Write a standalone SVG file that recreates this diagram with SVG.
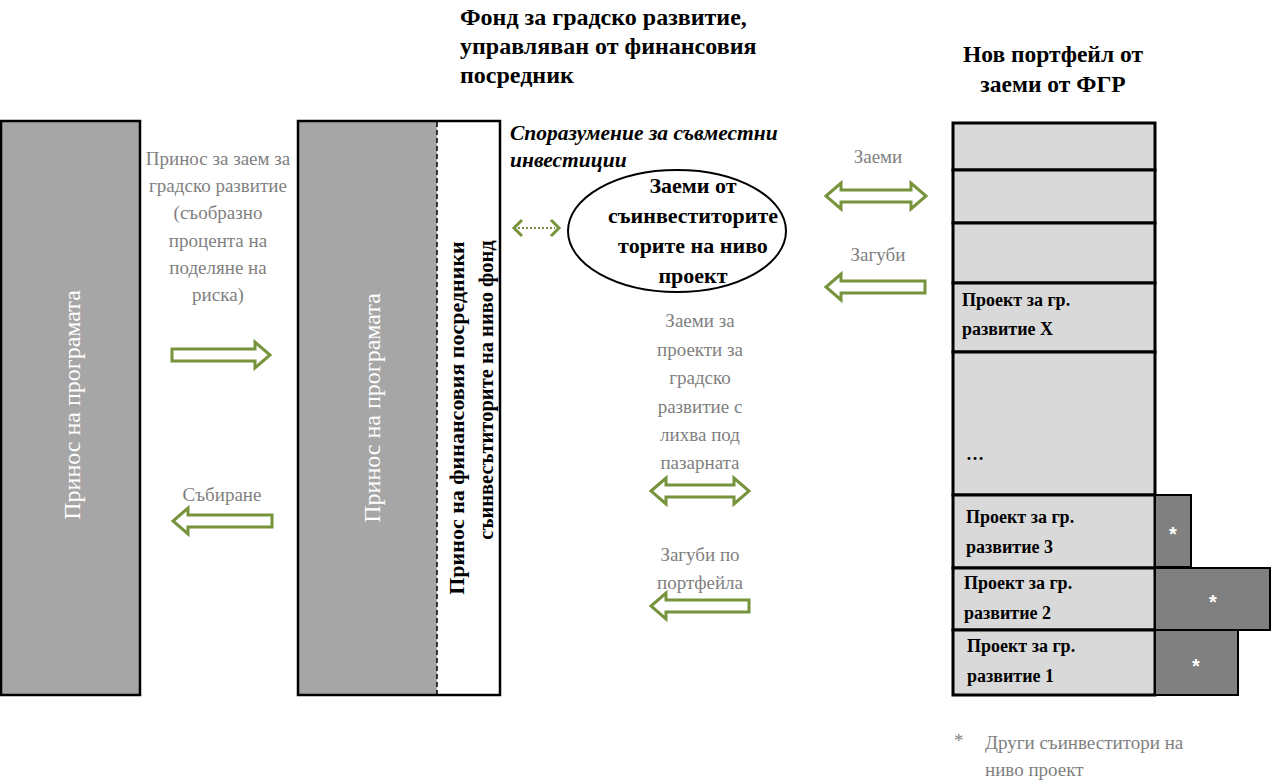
<svg xmlns="http://www.w3.org/2000/svg" width="1272" height="782" viewBox="0 0 1272 782">
<style>
text{font-family:"Liberation Serif","Times New Roman",serif}
.gl{fill:#7f7f7f;font-size:19px}
.c{text-anchor:middle}
.bt{fill:#000;font-weight:bold}
.arr{fill:#fff;stroke:#77933c;stroke-width:3;stroke-linejoin:miter}
.row{fill:#d9d9d9;stroke:#000;stroke-width:3}
.side{fill:#808080;stroke:#000;stroke-width:2}
.star{fill:#fff;font-size:20px;font-weight:bold;text-anchor:middle;font-family:"Liberation Sans",Arial,sans-serif}
</style>
<rect width="1272" height="782" fill="#fff"/>

<g id="title">
<text class="bt" x="460" y="25" font-size="24">Фонд за градско развитие,</text>
<text class="bt" x="460" y="54" font-size="24">управляван от финансовия</text>
<text class="bt" x="460" y="83" font-size="24">посредник</text>
</g>
<g id="portfolio-title">
<text class="bt c" x="1053" y="62" font-size="23.5">Нов портфейл от</text>
<text class="bt c" x="1053" y="92" font-size="23.5">заеми от ФГР</text>
</g>

<g id="program-box">
<rect x="1" y="121" width="139" height="574" fill="#a6a6a6" stroke="#000" stroke-width="2.5"/>
<text class="c" transform="translate(72,405) rotate(-90)" fill="#fff" font-size="24" dominant-baseline="central">Принос на програмата</text>
</g>

<g id="fund-box">
<rect x="298" y="121" width="139" height="574" fill="#a6a6a6"/>
<rect x="437" y="121" width="63" height="574" fill="#fff"/>
<rect x="298" y="121" width="202" height="574" fill="none" stroke="#000" stroke-width="2.5"/>
<line x1="437" y1="122" x2="437" y2="694" stroke="#000" stroke-width="1.5" stroke-dasharray="5,3"/>
<text class="c" transform="translate(372,408) rotate(-90)" fill="#fff" font-size="24" dominant-baseline="central">Принос на програмата</text>
<text class="bt c" transform="translate(456,418) rotate(-90)" font-size="22" dominant-baseline="central">Принос на финансовия посредники</text>
<text class="bt c" transform="translate(486,390) rotate(-90)" font-size="20.5" dominant-baseline="central">съинвесътиторите на ниво фонд</text>
</g>

<g id="agreement">
<text class="bt" x="510" y="140" font-size="21.5" font-style="italic">Споразумение за съвместни</text>
<text class="bt" x="510" y="167" font-size="21.5" font-style="italic">инвестиции</text>
</g>

<g id="coinvestor-ellipse">
<ellipse cx="677" cy="231" rx="109" ry="61" fill="#fff" stroke="#000" stroke-width="2"/>
<text class="bt c" x="693" y="193" font-size="22">Заеми от</text>
<text class="bt c" x="693" y="223" font-size="22">съинвеститорите</text>
<text class="bt c" x="693" y="253" font-size="22">торите на ниво</text>
<text class="bt c" x="693" y="283" font-size="22">проект</text>
</g>

<g id="portfolio">
<rect class="row" x="953" y="123" width="202" height="47"/>
<rect class="row" x="953" y="170" width="202" height="53"/>
<rect class="row" x="953" y="223" width="202" height="60"/>
<rect class="row" x="953" y="283" width="202" height="69"/>
<rect class="row" x="953" y="352" width="202" height="143"/>
<rect class="row" x="953" y="495" width="202" height="73"/>
<rect class="row" x="953" y="568" width="202" height="62"/>
<rect class="row" x="953" y="630" width="202" height="65"/>
<text class="bt" x="962" y="306" font-size="18">Проект за гр.</text>
<text class="bt" x="962" y="335" font-size="18">развитие X</text>
<text class="bt" x="966" y="460" font-size="18">…</text>
<text class="bt" x="966" y="523" font-size="18">Проект за гр.</text>
<text class="bt" x="966" y="553" font-size="18">развитие 3</text>
<text class="bt" x="964" y="589" font-size="18">Проект за гр.</text>
<text class="bt" x="964" y="619" font-size="18">развитие 2</text>
<text class="bt" x="967" y="652" font-size="18">Проект за гр.</text>
<text class="bt" x="967" y="682" font-size="18">развитие 1</text>
</g>

<g id="coinvestors-side">
<rect class="side" x="1155" y="495" width="36" height="72"/>
<rect class="side" x="1155" y="568" width="115" height="62"/>
<rect class="side" x="1155" y="630" width="83" height="65"/>
<text class="star" x="1173" y="541">*</text>
<text class="star" x="1213" y="609">*</text>
<text class="star" x="1196" y="673">*</text>
</g>

<g id="footnote">
<text class="gl" x="954" y="747" font-size="17">*</text>
<text class="gl" x="985" y="749">Други съинвеститори на</text>
<text class="gl" x="985" y="776">ниво проект</text>
</g>

<g id="labels">
<text class="gl c" x="218" y="165">Принос за заем за</text>
<text class="gl c" x="218" y="192">градско развитие</text>
<text class="gl c" x="218" y="219">(съобразно</text>
<text class="gl c" x="218" y="247">процента на</text>
<text class="gl c" x="218" y="274">поделяне на</text>
<text class="gl c" x="218" y="301">риска)</text>
<text class="gl c" x="222" y="501">Събиране</text>
<text class="gl c" x="878" y="163">Заеми</text>
<text class="gl c" x="878" y="261">Загуби</text>
<text class="gl c" x="700" y="327">Заеми за</text>
<text class="gl c" x="700" y="356">проекти за</text>
<text class="gl c" x="700" y="384">градско</text>
<text class="gl c" x="700" y="413">развитие с</text>
<text class="gl c" x="700" y="441">лихва под</text>
<text class="gl c" x="700" y="469">пазарната</text>
<text class="gl c" x="700" y="561">Загуби по</text>
<text class="gl c" x="700" y="589">портфейла</text>
</g>

<g id="connectors">
<path class="arr" d="M172,349 H255 V342 L270,355 L255,368 V361 H172 Z"/>
<path class="arr" d="M272,515 H188 V508 L173,521 L188,534 V527 H272 Z"/>
<path class="arr" d="M826,196 L841,183 V190 H911 V183 L926,196 L911,209 V202 H841 V209 Z"/>
<path class="arr" d="M925,281 H841 V274 L826,287 L841,300 V293 H925 Z"/>
<path class="arr" d="M651,491 L666,478 V485 H734 V478 L749,491 L734,504 V497 H666 V504 Z"/>
<path class="arr" d="M749,600 H666 V593 L651,606 L666,619 V612 H749 Z"/>
<line x1="518" y1="228" x2="555" y2="228" stroke="#77933c" stroke-width="2" stroke-dasharray="2,2"/>
<polyline points="522,220 514,228 522,236" fill="none" stroke="#77933c" stroke-width="3"/>
<polyline points="551,220 559,228 551,236" fill="none" stroke="#77933c" stroke-width="3"/>
</g>
</svg>
